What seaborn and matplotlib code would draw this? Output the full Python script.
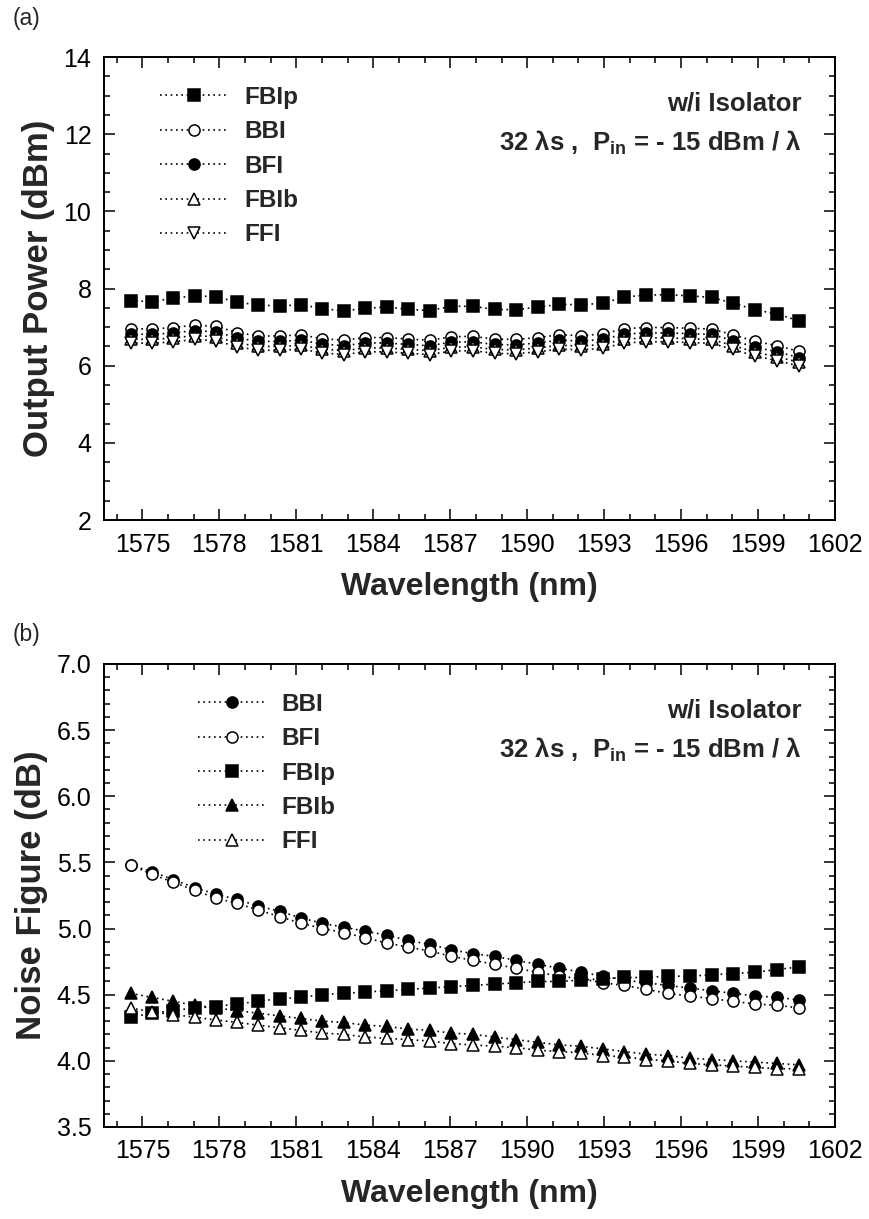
import seaborn as sns
import matplotlib.pyplot as plt
from matplotlib.ticker import MultipleLocator

# 100 GHz grid channels (nm)
wavelength = [1574.54, 1575.37, 1576.20, 1577.03, 1577.86, 1578.69, 1579.52, 1580.35,
              1581.18, 1582.02, 1582.85, 1583.69, 1584.53, 1585.36, 1586.20, 1587.04,
              1587.88, 1588.73, 1589.57, 1590.41, 1591.26, 1592.10, 1592.95, 1593.79,
              1594.64, 1595.49, 1596.34, 1597.19, 1598.04, 1598.89, 1599.75, 1600.60]

# (a) output power (dBm)
pow_fbip = [7.68, 7.66, 7.75, 7.81, 7.79, 7.65, 7.57, 7.55, 7.58, 7.48, 7.42, 7.49,
            7.52, 7.46, 7.43, 7.54, 7.54, 7.46, 7.45, 7.52, 7.59, 7.58, 7.62, 7.78,
            7.83, 7.84, 7.81, 7.77, 7.62, 7.45, 7.34, 7.16]
pow_bbi = [6.96, 6.95, 6.99, 7.05, 7.02, 6.86, 6.77, 6.77, 6.80, 6.70, 6.66, 6.73,
           6.73, 6.69, 6.66, 6.75, 6.76, 6.69, 6.68, 6.73, 6.80, 6.78, 6.82, 6.96,
           6.99, 6.99, 6.97, 6.95, 6.80, 6.63, 6.52, 6.37]
pow_bfi = [6.82, 6.81, 6.85, 6.91, 6.88, 6.72, 6.63, 6.63, 6.66, 6.56, 6.52, 6.59,
           6.59, 6.55, 6.52, 6.61, 6.62, 6.55, 6.54, 6.59, 6.66, 6.64, 6.68, 6.82,
           6.85, 6.85, 6.83, 6.81, 6.65, 6.48, 6.36, 6.21]
pow_fbib = [6.69, 6.68, 6.72, 6.78, 6.75, 6.59, 6.50, 6.50, 6.53, 6.43, 6.39, 6.46,
            6.46, 6.42, 6.39, 6.48, 6.49, 6.42, 6.41, 6.46, 6.53, 6.51, 6.55, 6.69,
            6.72, 6.72, 6.70, 6.68, 6.52, 6.35, 6.23, 6.09]
pow_ffi = [6.59, 6.58, 6.62, 6.68, 6.65, 6.49, 6.40, 6.40, 6.43, 6.33, 6.29, 6.36,
           6.36, 6.32, 6.29, 6.38, 6.39, 6.32, 6.31, 6.36, 6.43, 6.41, 6.45, 6.59,
           6.62, 6.62, 6.60, 6.58, 6.42, 6.25, 6.13, 5.99]

# (b) noise figure (dB)
nf_bbi = [5.48, 5.43, 5.37, 5.31, 5.26, 5.22, 5.17, 5.13, 5.08, 5.04, 5.01, 4.98,
          4.95, 4.91, 4.88, 4.84, 4.81, 4.79, 4.76, 4.73, 4.70, 4.67, 4.64, 4.61,
          4.59, 4.57, 4.55, 4.53, 4.51, 4.49, 4.48, 4.46]
nf_bfi = [5.48, 5.41, 5.35, 5.29, 5.23, 5.19, 5.14, 5.09, 5.04, 5.00, 4.97, 4.93,
          4.89, 4.86, 4.83, 4.79, 4.76, 4.73, 4.70, 4.67, 4.64, 4.62, 4.59, 4.57,
          4.54, 4.51, 4.49, 4.47, 4.45, 4.43, 4.42, 4.40]
nf_fbip = [4.33, 4.36, 4.38, 4.40, 4.41, 4.43, 4.45, 4.47, 4.48, 4.50, 4.51, 4.52,
           4.53, 4.54, 4.55, 4.56, 4.57, 4.58, 4.59, 4.60, 4.60, 4.61, 4.62, 4.63,
           4.63, 4.64, 4.64, 4.65, 4.66, 4.67, 4.69, 4.71]
nf_fbib = [4.51, 4.48, 4.45, 4.42, 4.40, 4.38, 4.36, 4.34, 4.32, 4.30, 4.29, 4.27,
           4.26, 4.24, 4.23, 4.21, 4.20, 4.18, 4.16, 4.14, 4.12, 4.11, 4.09, 4.07,
           4.05, 4.04, 4.02, 4.01, 4.00, 3.99, 3.98, 3.97]
nf_ffi = [4.40, 4.37, 4.35, 4.33, 4.31, 4.29, 4.27, 4.25, 4.23, 4.21, 4.20, 4.18,
          4.17, 4.16, 4.15, 4.13, 4.12, 4.11, 4.10, 4.08, 4.07, 4.06, 4.04, 4.03,
          4.01, 4.00, 3.98, 3.97, 3.96, 3.95, 3.94, 3.94]

sns.set_theme(style="ticks")
plt.rcParams["font.family"] = ["Liberation Sans", "DejaVu Sans"]
plt.rcParams["mathtext.fontset"] = "custom"
plt.rcParams["mathtext.rm"] = "Liberation Sans:bold"
plt.rcParams["mathtext.bf"] = "Liberation Sans:bold"
plt.rcParams["mathtext.default"] = "rm"

fig = plt.figure(figsize=(8.7, 12.19), dpi=100)
ax1 = fig.add_axes([0.1195, 0.5734, 0.8402, 0.3798])
ax2 = fig.add_axes([0.1195, 0.0755, 0.8402, 0.3798])

dots = (0, (1, 2.2))


def draw(ax, y, marker, fill, label):
    sns.lineplot(x=wavelength, y=y, ax=ax, color="black", linestyle=dots, linewidth=1.2,
                 marker=marker, markersize=8, markerfacecolor=fill,
                 markeredgecolor="black", markeredgewidth=1.1, label=label)


draw(ax1, pow_fbip, "s", "black", "FBIp")
draw(ax1, pow_bbi, "o", "white", "BBI")
draw(ax1, pow_bfi, "o", "black", "BFI")
draw(ax1, pow_fbib, "^", "white", "FBIb")
draw(ax1, pow_ffi, "v", "white", "FFI")

draw(ax2, nf_bbi, "o", "black", "BBI")
draw(ax2, nf_bfi, "o", "white", "BFI")
draw(ax2, nf_fbip, "s", "black", "FBIp")
draw(ax2, nf_fbib, "^", "black", "FBIb")
draw(ax2, nf_ffi, "^", "white", "FFI")

ax1.set_ylim(2, 14)
ax1.yaxis.set_major_locator(MultipleLocator(2))
ax1.yaxis.set_minor_locator(MultipleLocator(0.5))
ax2.set_ylim(3.5, 7.0)
ax2.yaxis.set_major_locator(MultipleLocator(0.5))
ax2.yaxis.set_minor_locator(MultipleLocator(0.1))
ax2.yaxis.set_major_formatter(plt.FormatStrFormatter("%.1f"))

ax1.set_ylabel("Output Power (dBm)", fontsize=25, fontweight="bold", labelpad=6)
ax2.set_ylabel("Noise Figure (dB)", fontsize=25, fontweight="bold", labelpad=6)

for ax, anchor_x in [(ax1, 0.077), (ax2, 0.128)]:
    ax.set_xlim(1573.5, 1602)
    ax.xaxis.set_major_locator(MultipleLocator(3))
    ax.xaxis.set_minor_locator(MultipleLocator(1))
    ax.set_xlabel("Wavelength (nm)", fontsize=23, fontweight="bold", labelpad=11)
    ax.tick_params(which="both", direction="in", top=True, right=True,
                   labelsize=18, width=1.1, colors="black")
    ax.tick_params(which="major", length=8, pad=9)
    ax.tick_params(which="minor", length=4)
    for s in ax.spines.values():
        s.set_linewidth(1.4)
        s.set_color("black")
    ax.legend(loc="upper left", bbox_to_anchor=(anchor_x, 0.938), frameon=False,
              borderpad=0, borderaxespad=0, handlelength=2.8, handletextpad=0.65,
              labelspacing=0.47, prop={"weight": "bold", "size": 17.5})
    ax.text(0.955, 0.90, "w/i Isolator", transform=ax.transAxes, ha="right",
            va="center", fontsize=18.5, fontweight="bold")
    ax.text(0.955, 0.815, "32 λs ,  P$_{in}$ = - 15 dBm / λ", transform=ax.transAxes,
            ha="right", va="center", fontsize=18.5, fontweight="bold")

fig.text(0.014, 0.985, "(a)", fontsize=16.5, va="center")
fig.text(0.014, 1 - 635 / 1219, "(b)", fontsize=16.5, va="center")

plt.savefig("out.png", dpi=100)
